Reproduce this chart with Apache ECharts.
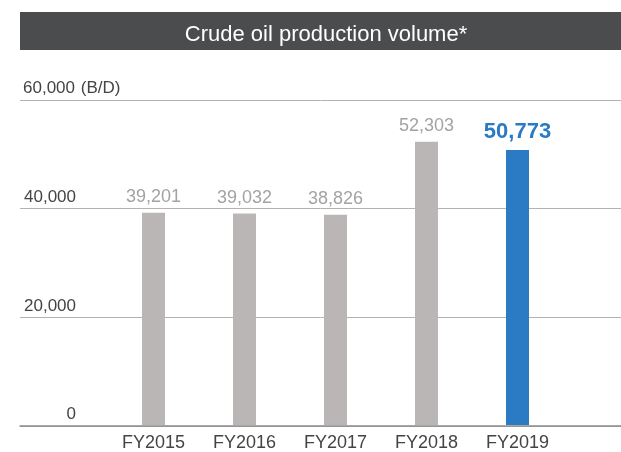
<!DOCTYPE html>
<html>
<head>
<meta charset="utf-8">
<script src="https://cdn.jsdelivr.net/npm/echarts@6/dist/echarts.min.js"></script>
<style>
  html, body { margin: 0; padding: 0; background: #fff; }
  #chart { width: 621px; height: 452px; }
</style>
</head>
<body>
<div id="chart"></div>
<script>
// data
var categories = ['FY2015', 'FY2016', 'FY2017', 'FY2018', 'FY2019'];
var production = [39201, 39032, 38826, 52303, 50773];
var yTicks = [0, 20000, 40000, 60000];
var unit = '(B/D)';

var FONT = '"Liberation Sans", Arial, Helvetica, sans-serif';
var grey = '#bab6b5';
var blue = '#2a7bc4';
var last = production.length - 1;

function fmt(v) {
  return v.toLocaleString('en-US');
}

var chart = echarts.init(document.getElementById('chart'));

var option = {
  backgroundColor: '#fff',
  animation: false,
  title: {
    text: 'Crude oil production volume*',
    left: 321,
    top: 30,
    textAlign: 'center',
    textVerticalAlign: 'middle',
    textStyle: { color: '#fff', fontSize: 22, fontWeight: 'normal', fontFamily: FONT }
  },
  graphic: [
    { type: 'rect', z: -1, shape: { x: 20, y: 12, width: 601, height: 38 }, style: { fill: '#4b4c4e' } }
  ],
  grid: [
    // wide grid: gridlines + y labels
    { left: 20, right: 0, top: 100, bottom: 26 },
    // bars
    { left: 108, right: 58, top: 100, bottom: 26 }
  ],
  xAxis: [
    {
      gridIndex: 0, type: 'category', data: [''],
      axisLine: { show: true, lineStyle: { color: '#8c8c8c', width: 1.5 } },
      axisTick: { show: false }, axisLabel: { show: false }
    },
    {
      gridIndex: 1, type: 'category', data: categories,
      axisLine: { show: false }, axisTick: { show: false },
      axisLabel: { color: '#444', fontSize: 18, fontFamily: FONT, margin: 9 }
    }
  ],
  yAxis: [
    {
      gridIndex: 0, type: 'value', min: yTicks[0], max: yTicks[yTicks.length - 1],
      interval: yTicks[1] - yTicks[0],
      axisLine: { show: false }, axisTick: { show: false },
      splitLine: { lineStyle: { color: '#b3b3b3', width: 1 } },
      axisLabel: {
        inside: true, margin: 2, align: 'left', verticalAlign: 'bottom',
        padding: [0, 0, 3, 0],
        color: '#444', fontSize: 17, fontFamily: FONT,
        formatter: function (v) {
          var s = '{r|' + fmt(v) + '}';
          if (v === yTicks[yTicks.length - 1]) s += ' ' + unit;
          return s;
        },
        rich: { r: { width: 54, align: 'right', color: '#444', fontSize: 17, fontFamily: FONT } }
      }
    },
    {
      gridIndex: 1, type: 'value', min: yTicks[0], max: yTicks[yTicks.length - 1],
      show: false, splitLine: { show: false }
    }
  ],
  series: [
    {
      type: 'bar',
      xAxisIndex: 1, yAxisIndex: 1,
      barWidth: 23,
      data: production.map(function (v, i) {
        var hl = i === last;
        return {
          value: v,
          itemStyle: { color: hl ? blue : grey },
          label: hl
            ? { color: blue, fontSize: 22, fontWeight: 'bold' }
            : { color: '#a3a3a3', fontSize: 18 }
        };
      }),
      label: {
        show: true, position: 'top', distance: 7, fontFamily: FONT,
        formatter: function (p) { return fmt(p.value); }
      }
    }
  ]
};

chart.setOption(option);
</script>
</body>
</html>
